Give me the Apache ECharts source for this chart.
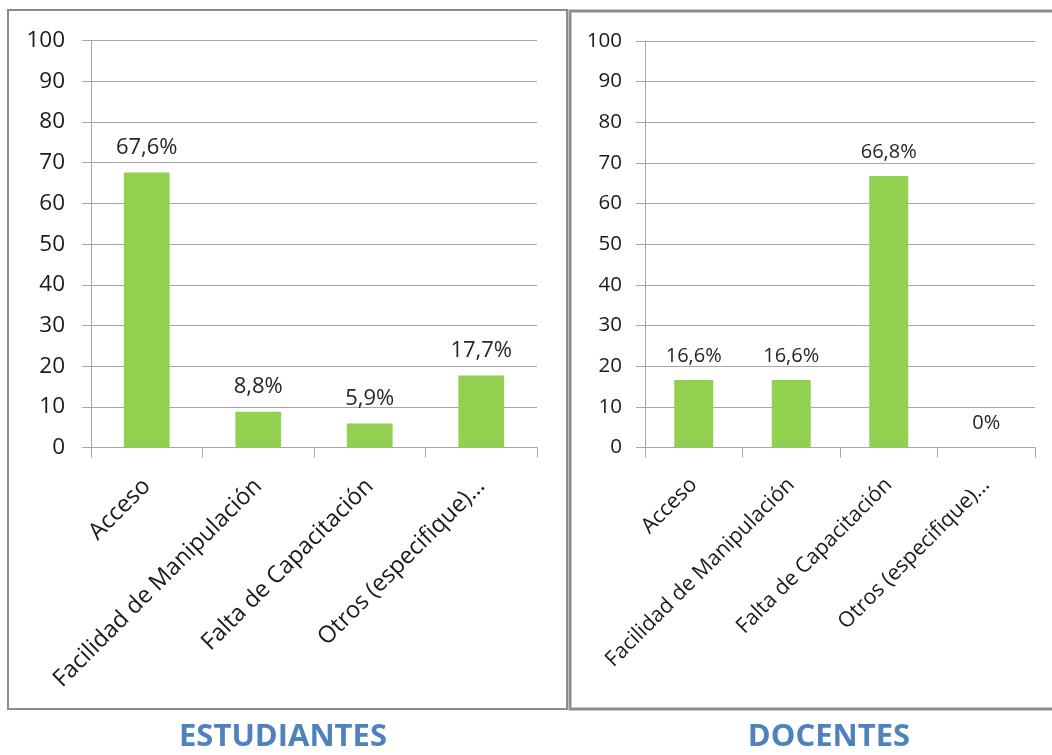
<!DOCTYPE html>
<html>
<head>
<meta charset="utf-8">
<style>
  html, body { margin: 0; padding: 0; background: #ffffff; }
  #chart { width: 1052px; height: 755px; }
</style>
<script src="https://cdn.jsdelivr.net/npm/echarts@6/dist/echarts.min.js"></script>
</head>
<body>
<div id="chart"></div>
<script>
// Categories shared by both panels
const categories = ['Acceso', 'Facilidad de Manipulación', 'Falta de Capacitación', 'Otros (especifique)...'];

// Percentages per group
const estudiantes = [67.6, 8.8, 5.9, 17.7];
const docentes = [16.6, 16.6, 66.8, 0];

// Value axis ticks
const yMin = 0;
const yMax = 100;
const yStep = 10;

const panelTitles = ['ESTUDIANTES', 'DOCENTES'];

const FONT = '"Open Sans", "Liberation Sans", sans-serif';
const GRID_COLOR = '#a6a6a6';
const BAR_COLOR = '#92d050';

function pct(v) {
  return v.toFixed(v === 0 ? 0 : 1).replace('.', ',') + '%';
}

// text sizes per panel: the right panel is drawn slightly smaller
const sizes = [
  { y: 22.5, x: 23.5, label: 22, xMargin: 35, yMargin: 26 },
  { y: 20.5, x: 21.3, label: 20, xMargin: 34, yMargin: 23 }
];

function yAxisFor(i) {
  return {
    type: 'value',
    gridIndex: i,
    min: yMin,
    max: yMax,
    interval: yStep,
    axisLine: { show: true, lineStyle: { color: GRID_COLOR, width: 1 } },
    axisTick: { show: true, length: 9, lineStyle: { color: GRID_COLOR } },
    splitLine: { show: true, lineStyle: { color: GRID_COLOR, width: 1 } },
    axisLabel: { fontFamily: FONT, fontSize: sizes[i].y, color: '#1a1a1a', margin: sizes[i].yMargin }
  };
}

function xAxisFor(i) {
  return {
    type: 'category',
    gridIndex: i,
    data: categories,
    axisLine: { show: true, lineStyle: { color: GRID_COLOR, width: 1 } },
    axisTick: { show: true, length: 10, alignWithLabel: false, lineStyle: { color: GRID_COLOR } },
    axisLabel: {
      interval: 0,
      rotate: 45,
      fontFamily: FONT,
      fontSize: sizes[i].x,
      color: '#1a1a1a',
      margin: sizes[i].xMargin
    }
  };
}

function barSeries(i, values, width) {
  return {
    type: 'bar',
    xAxisIndex: i,
    yAxisIndex: i,
    data: values,
    barWidth: width,
    itemStyle: { color: BAR_COLOR },
    label: {
      show: true,
      position: 'top',
      distance: 14,
      fontFamily: FONT,
      fontSize: sizes[i].label,
      color: '#262626',
      formatter: p => pct(p.value)
    },
    silent: true
  };
}

const chart = echarts.init(document.getElementById('chart'), null, { renderer: 'canvas' });

chart.setOption({
  animation: false,
  backgroundColor: '#ffffff',
  title: [
    {
      text: panelTitles[0], left: 283, top: 722, textAlign: 'center', padding: 0,
      textStyle: { fontFamily: FONT, fontSize: 31, fontWeight: 'bold', color: '#4f81bd' }
    },
    {
      text: panelTitles[1], left: 829, top: 722, textAlign: 'center', padding: 0,
      textStyle: { fontFamily: FONT, fontSize: 31, fontWeight: 'bold', color: '#4f81bd' }
    }
  ],
  graphic: [
    {
      type: 'rect', silent: true, z: -1,
      shape: { x: 8, y: 10, width: 559, height: 699 },
      style: { fill: 'none', stroke: '#8c8c8c', lineWidth: 2 }
    },
    {
      type: 'rect', silent: true, z: -1,
      shape: { x: 570, y: 11, width: 500, height: 698 },
      style: { fill: 'none', stroke: '#8c8c8c', lineWidth: 3 }
    }
  ],
  grid: [
    { left: 91, right: 515, top: 40.7, bottom: 307.5, containLabel: false },
    { left: 645, right: 17, top: 41, bottom: 307.5, containLabel: false }
  ],
  xAxis: [xAxisFor(0), xAxisFor(1)],
  yAxis: [yAxisFor(0), yAxisFor(1)],
  series: [
    barSeries(0, estudiantes, '41%'),
    barSeries(1, docentes, '40%')
  ]
});
</script>
</body>
</html>
